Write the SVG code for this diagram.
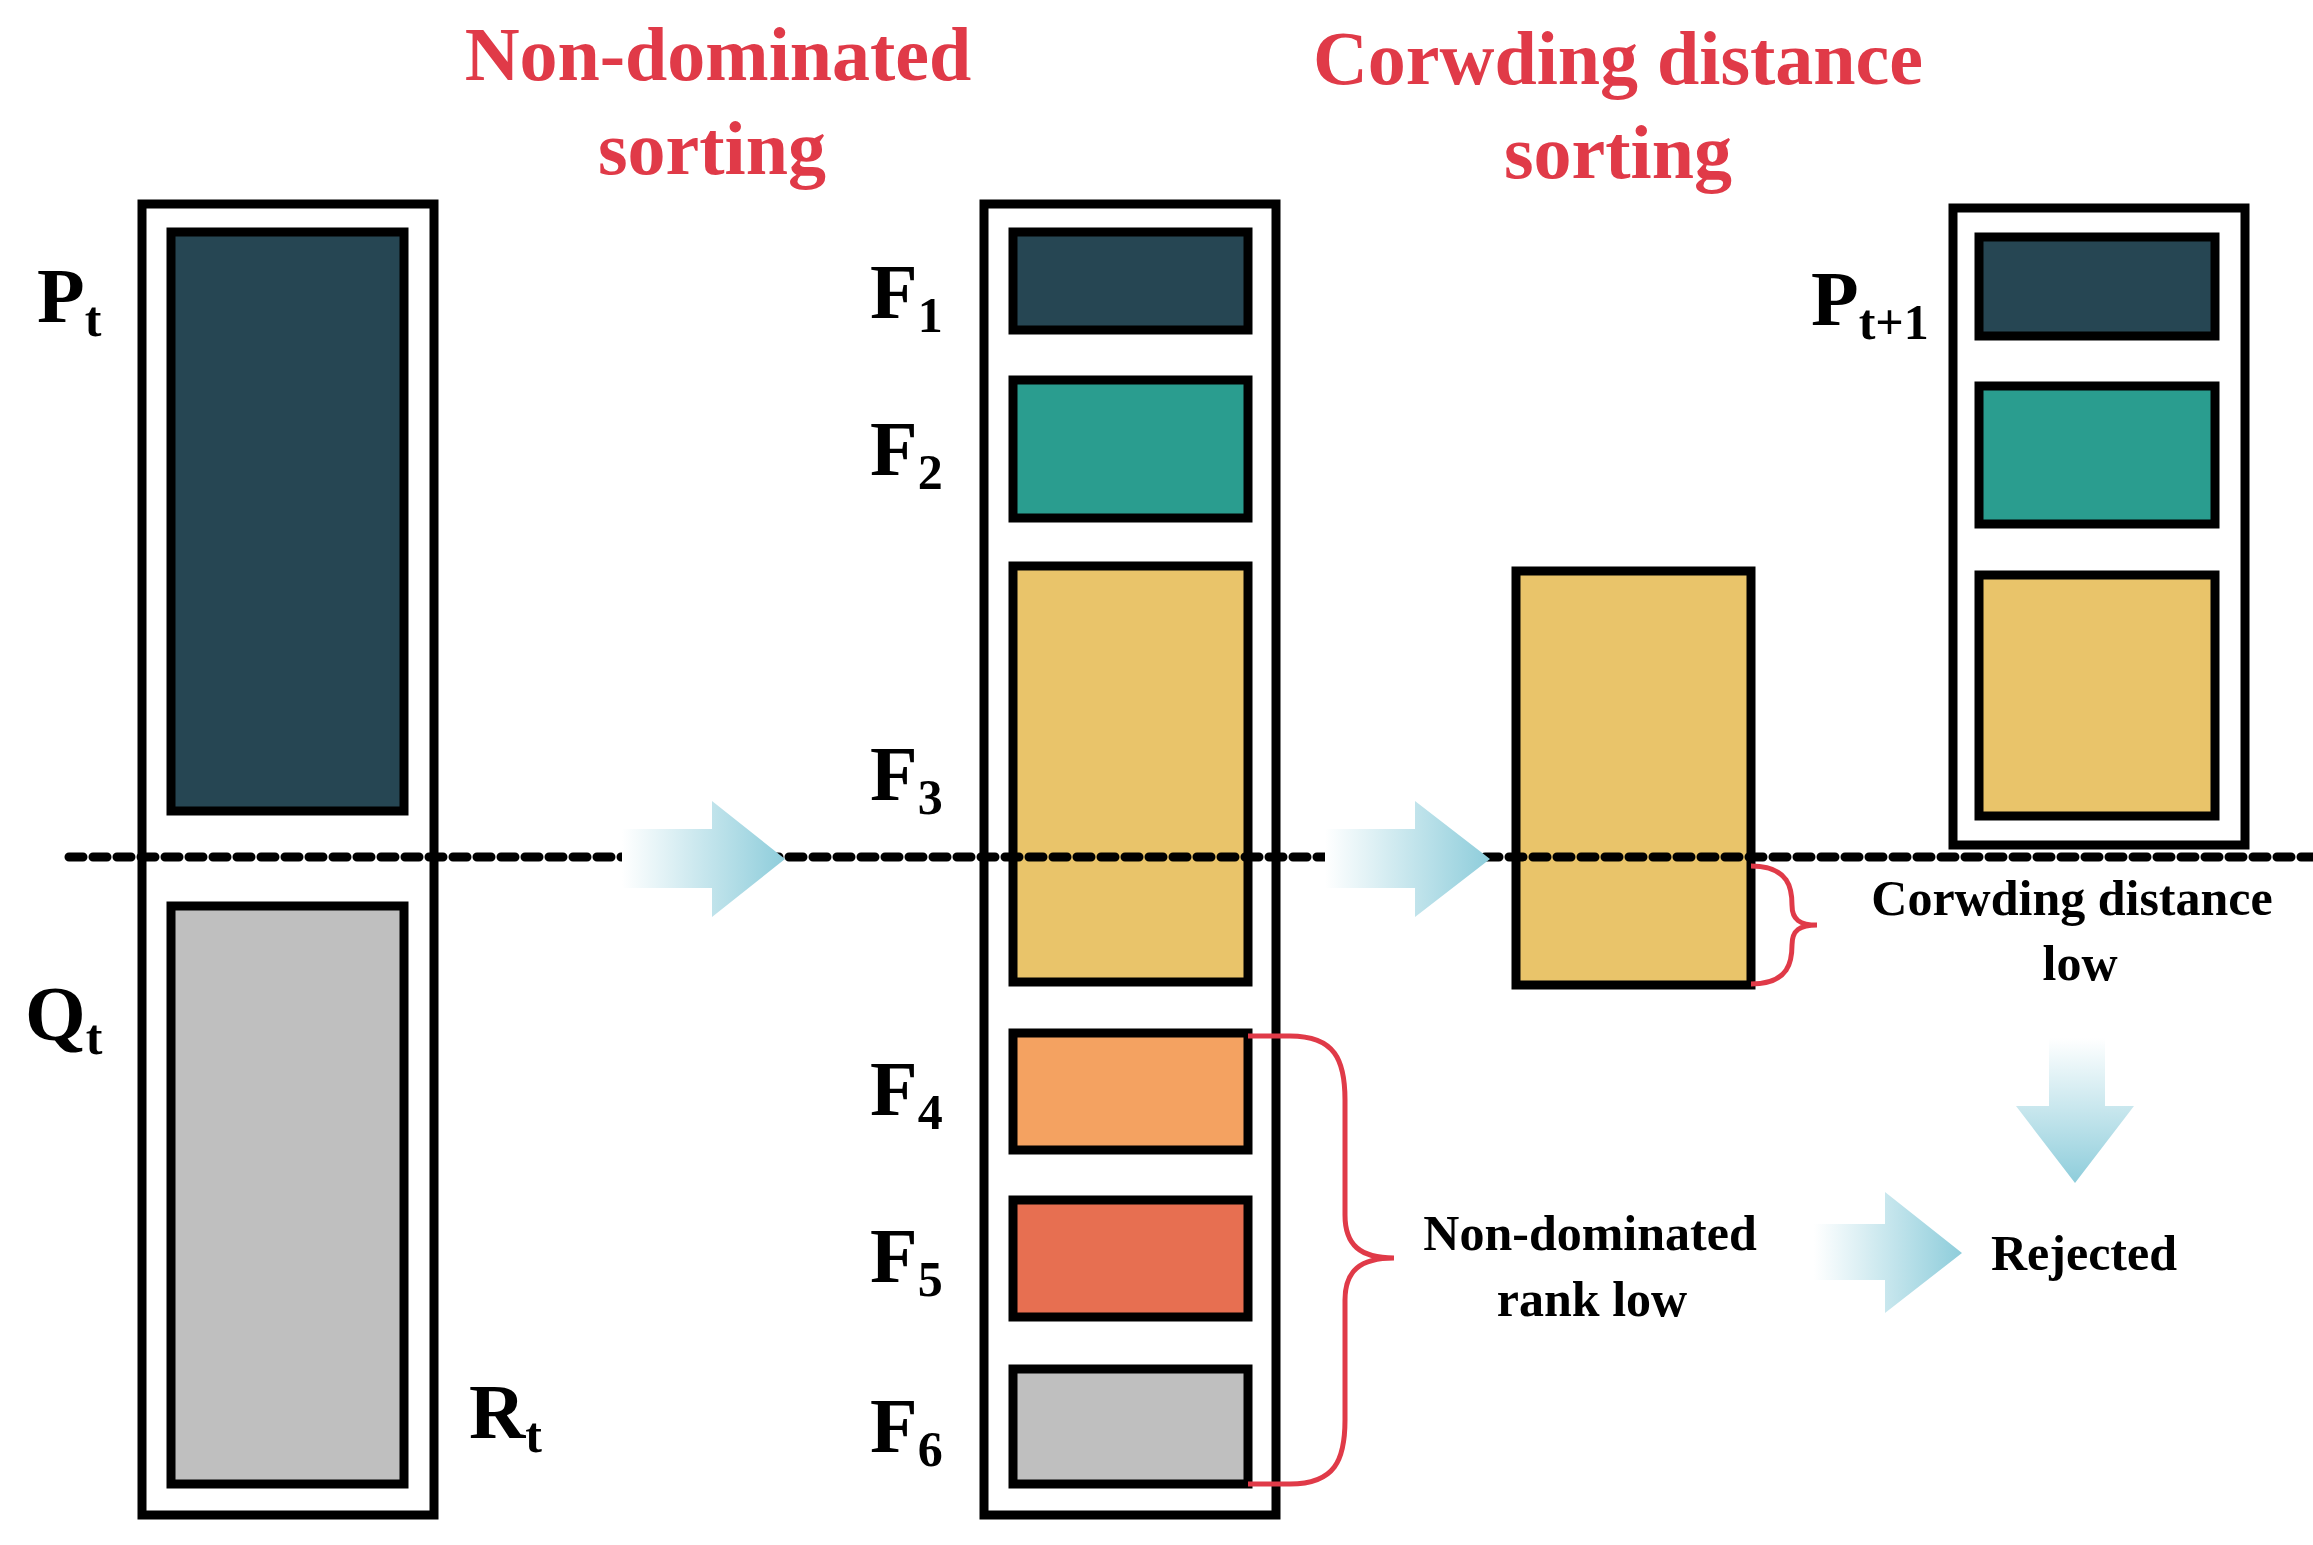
<svg xmlns="http://www.w3.org/2000/svg" width="2313" height="1545" viewBox="0 0 2313 1545">
<defs>
<style>
.box{stroke:#000;stroke-width:9;fill:#fff}
.b{stroke:#000;stroke-width:9}
.t{font-family:"Liberation Serif",serif;font-weight:bold;fill:#000}
.lbl{font-size:78px}
.sub{font-size:50px}
.red{fill:#e03a48;font-size:76px;text-anchor:middle}
.txt{font-size:50px;text-anchor:middle}
.br{fill:none;stroke:#e03a48;stroke-width:5}
</style>
<linearGradient id="gh" x1="0" y1="0" x2="1" y2="0"><stop offset="0" stop-color="#fff"/><stop offset="1" stop-color="#8ecddb"/></linearGradient>
<linearGradient id="gv" x1="0" y1="0" x2="0" y2="1"><stop offset="0" stop-color="#fff"/><stop offset="1" stop-color="#8ecddb"/></linearGradient>
</defs>
<rect width="2313" height="1545" fill="#fff"/>
<text class="t red" x="718" y="80">Non-dominated</text>
<text class="t red" x="712" y="174">sorting</text>
<text class="t red" x="1618" y="84">Corwding distance</text>
<text class="t red" x="1618" y="178">sorting</text>
<g id="Rt">
<rect class="box" x="142" y="204" width="292" height="1311"/>
<rect class="b" x="171" y="232" width="233" height="579" fill="#264653"/>
<rect class="b" x="171" y="906" width="233" height="578" fill="#bfbfbf"/>
<text class="t lbl" x="37" y="322">P<tspan class="sub" dy="14">t</tspan></text>
<text class="t lbl" x="25" y="1040">Q<tspan class="sub" dy="14">t</tspan></text>
<text class="t lbl" x="469" y="1438">R<tspan class="sub" dy="14">t</tspan></text>
</g>
<g id="F">
<rect class="box" x="984" y="204" width="292" height="1311"/>
<rect class="b" x="1013" y="232" width="235" height="98" fill="#264653"/>
<rect class="b" x="1013" y="380" width="235" height="138" fill="#2a9d8f"/>
<rect class="b" x="1013" y="566" width="235" height="416" fill="#e9c46a"/>
<rect class="b" x="1013" y="1033" width="235" height="117" fill="#f4a261"/>
<rect class="b" x="1013" y="1200" width="235" height="117" fill="#e76f51"/>
<rect class="b" x="1013" y="1369" width="235" height="115" fill="#bfbfbf"/>
<text class="t lbl" x="870" y="318">F<tspan class="sub" dy="14">1</tspan></text>
<text class="t lbl" x="870" y="475">F<tspan class="sub" dy="14">2</tspan></text>
<text class="t lbl" x="870" y="800">F<tspan class="sub" dy="14">3</tspan></text>
<text class="t lbl" x="870" y="1115">F<tspan class="sub" dy="14">4</tspan></text>
<text class="t lbl" x="870" y="1282">F<tspan class="sub" dy="14">5</tspan></text>
<text class="t lbl" x="870" y="1452">F<tspan class="sub" dy="14">6</tspan></text>
</g>
<g id="F3split">
<rect class="b" x="1516" y="571" width="235" height="414" fill="#e9c46a"/>
</g>
<g id="Pt1">
<rect class="box" x="1953" y="208" width="292" height="637"/>
<rect class="b" x="1979" y="237" width="236" height="99" fill="#264653"/>
<rect class="b" x="1979" y="386" width="236" height="138" fill="#2a9d8f"/>
<rect class="b" x="1979" y="575" width="236" height="241" fill="#e9c46a"/>
<text class="t lbl" x="1811" y="325">P<tspan class="sub" dy="14">t+1</tspan></text>
</g>
<g id="labels">
<text class="t txt" x="2072" y="915">Corwding distance</text>
<text class="t txt" x="2080" y="980">low</text>
<text class="t txt" x="1590" y="1250">Non-dominated</text>
<text class="t txt" x="1592" y="1316">rank low</text>
<text class="t txt" x="2084" y="1270">Rejected</text>
</g>
<g id="connectors">
<line x1="69" y1="857" x2="2313" y2="857" stroke="#000" stroke-width="9" stroke-dasharray="14,10" stroke-linecap="round"/>
<polygon points="622,829 712,829 712,801 785,859 712,917 712,888 622,888" fill="url(#gh)"/>
<polygon points="1325,829 1415,829 1415,801 1490,859 1415,917 1415,888 1325,888" fill="url(#gh)"/>
<polygon points="1814,1224 1885,1224 1885,1192 1962,1253 1885,1313 1885,1280 1814,1280" fill="url(#gh)"/>
<polygon points="2049,1038 2105,1038 2105,1106 2134,1106 2075,1183 2016,1106 2049,1106" fill="url(#gv)"/>
<path class="br" d="M1751,866 C1790,866 1792,890 1792,905 C1792,920 1800,925 1817,925 C1800,925 1792,930 1792,945 C1792,960 1790,984 1751,984"/>
<path class="br" d="M1248,1036 L1290,1036 C1335,1036 1345,1060 1345,1100 L1345,1215 C1345,1245 1360,1258 1394,1258 C1360,1258 1345,1271 1345,1300 L1345,1420 C1345,1460 1335,1484 1290,1484 L1248,1484"/>
</g>
</svg>
